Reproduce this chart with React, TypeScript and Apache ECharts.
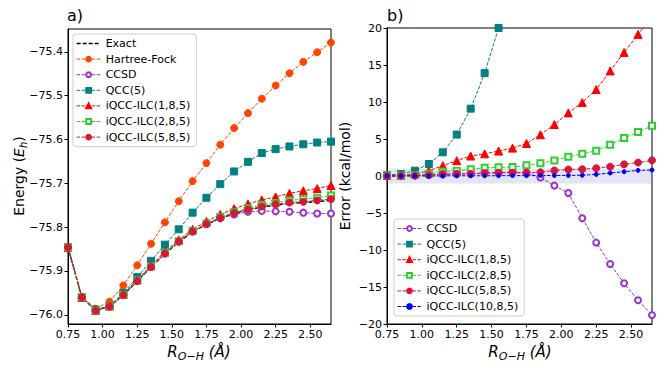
import React, { useEffect, useRef } from "react";
import * as echarts from "echarts";

const rValues = [0.75, 0.85, 0.95, 1.05, 1.15, 1.25, 1.35, 1.45, 1.55, 1.65, 1.75, 1.85, 1.95, 2.05, 2.15, 2.25, 2.35, 2.45, 2.55, 2.65];

const exactEnergy = [-75.846, -75.96, -75.99, -75.981, -75.955, -75.923, -75.891, -75.861, -75.834, -75.811, -75.794, -75.78, -75.769, -75.761, -75.754, -75.75, -75.746, -75.744, -75.742, -75.739];
const hfEnergy = [-75.846, -75.959, -75.986, -75.97, -75.933, -75.887, -75.838, -75.789, -75.741, -75.695, -75.654, -75.612, -75.574, -75.54, -75.507, -75.477, -75.449, -75.423, -75.401, -75.379];
const ccsdEnergy = [-75.846, -75.96, -75.99, -75.981, -75.955, -75.923, -75.891, -75.86, -75.833, -75.81, -75.793, -75.78, -75.771, -75.765, -75.763, -75.764, -75.765, -75.767, -75.769, -75.769];
const qccEnergy = [-75.846, -75.961, -75.988, -75.98, -75.95, -75.914, -75.877, -75.84, -75.805, -75.767, -75.733, -75.702, -75.673, -75.651, -75.631, -75.622, -75.616, -75.611, -75.607, -75.605];
const ilc1Energy = [-75.846, -75.96, -75.99, -75.98, -75.953, -75.92, -75.887, -75.856, -75.829, -75.805, -75.787, -75.771, -75.758, -75.747, -75.738, -75.731, -75.723, -75.717, -75.712, -75.705];
const ilc2Energy = [-75.846, -75.96, -75.99, -75.981, -75.954, -75.922, -75.89, -75.859, -75.832, -75.809, -75.792, -75.777, -75.766, -75.757, -75.749, -75.745, -75.739, -75.736, -75.733, -75.728];
const ilc5Energy = [-75.846, -75.96, -75.99, -75.981, -75.955, -75.923, -75.891, -75.86, -75.833, -75.81, -75.793, -75.779, -75.768, -75.76, -75.753, -75.748, -75.744, -75.742, -75.739, -75.736];

const ccsdError = [0.0, 0.05, 0.1, 0.15, 0.2, 0.25, 0.3, 0.4, 0.45, 0.5, 0.4, -0.2, -1.3, -2.3, -5.7, -9.0, -11.9, -14.5, -16.8, -18.8];
const qccError = [0.13, 0.27, 0.72, 1.62, 3.2, 5.6, 9.1, 13.9, 20.0, 27.6, 38.3, 49.0, 60.2, 69.0, 77.2, 80.3, 81.6, 83.4, 84.8, 84.1];
const ilc1Error = [0.1, 0.1, 0.27, 0.72, 1.4, 2.07, 2.7, 3.0, 3.37, 3.77, 4.4, 5.57, 6.96, 8.53, 9.93, 11.68, 14.2, 16.7, 19.14, 21.6];
const ilc2Error = [0.1, 0.05, 0.15, 0.27, 0.58, 0.72, 0.9, 1.12, 1.17, 1.2, 1.44, 1.71, 2.11, 2.6, 3.0, 3.41, 4.22, 5.12, 5.93, 6.78];
const ilc5Error = [0.0, 0.02, 0.05, 0.1, 0.27, 0.3, 0.3, 0.4, 0.45, 0.45, 0.45, 0.5, 0.75, 0.88, 0.92, 1.05, 1.26, 1.57, 1.82, 2.11];
const ilc10Error = [0.0, 0.0, 0.0, 0.0, 0.02, 0.03, 0.03, 0.03, 0.04, 0.05, 0.05, 0.06, 0.07, 0.08, 0.1, 0.22, 0.4, 0.58, 0.76, 0.81];

const xTicks = [0.75, 1.0, 1.25, 1.5, 1.75, 2.0, 2.25, 2.5];
const energyTicks = [-76.0, -75.9, -75.8, -75.7, -75.6, -75.5, -75.4];
const errorTicks = [-20, -15, -10, -5, 0, 5, 10, 15, 20];
const chemAccuracy = [-1, 1];

const leftLegendNames = ["Exact", "Hartree-Fock", "CCSD", "QCC(5)", "iQCC-ILC(1,8,5)", "iQCC-ILC(2,8,5)", "iQCC-ILC(5,8,5)"];
const rightLegendNames = ["CCSD", "QCC(5)", "iQCC-ILC(1,8,5)", "iQCC-ILC(2,8,5)", "iQCC-ILC(5,8,5)", "iQCC-ILC(10,8,5)"];

const FONT = "DejaVu Sans";
const minus = (s: string) => s.replace("-", "\u2212");
const DASH = [3.5, 1.5];

function mkSeries(name: string, idx: number, values: number[], color: string, symbol: string, size: number, extra: any = {}) {
  return {
    type: "line",
    name,
    xAxisIndex: idx,
    yAxisIndex: idx,
    data: rValues.map((r, i) => [r, values[i]]),
    symbol,
    symbolSize: size,
    showSymbol: symbol !== "none",
    clip: true,
    itemStyle: { color, borderColor: color, borderWidth: 1 },
    lineStyle: { color, width: 1, type: DASH },
    ...extra,
  };
}

function xAxis(idx: number) {
  return {
    type: "value",
    gridIndex: idx,
    min: 0.75,
    max: 2.65,
    interval: 0.25,
    axisLine: { show: true, onZero: false, lineStyle: { color: "#000", width: 1 } },
    axisTick: { show: true, length: 3.5, customValues: xTicks, lineStyle: { color: "#000" } },
    axisLabel: { customValues: xTicks, formatter: (v: number) => v.toFixed(2), color: "#000", fontSize: 11, fontFamily: FONT, margin: 5 },
    splitLine: { show: false },
  };
}

function legendData(names: string[]) {
  return names.map((n) =>
    n === "Exact"
      ? { name: n, itemStyle: { color: "rgba(0,0,0,0)", borderWidth: 0, opacity: 0 }, lineStyle: { color: "#000", width: 1.3, type: [4, 2] } }
      : { name: n }
  );
}

export default function App() {
  const ref = useRef<HTMLDivElement>(null);
  useEffect(() => {
    if (!ref.current) return;
    const chart = echarts.init(ref.current, undefined, { renderer: "svg" });
    const legendCommon = {
      orient: "vertical",
      itemWidth: 24,
      itemHeight: 6,
      itemGap: 2.6,
      backgroundColor: "rgba(255,255,255,0.85)",
      borderColor: "#cccccc",
      borderWidth: 1,
      borderRadius: 3,
      lineStyle: { width: 1, type: DASH },
      textStyle: { fontSize: 11, fontFamily: FONT, color: "#000", lineHeight: 13 },
      selectedMode: false,
    };
    const option: any = {
      animation: false,
      backgroundColor: "#fff",
      textStyle: { fontFamily: FONT },
      grid: [
        { left: 68, right: 333, top: 29, bottom: 50, show: true, borderColor: "#000", borderWidth: 1, backgroundColor: "transparent" },
        { left: 387, right: 12, top: 28, bottom: 50, show: true, borderColor: "#000", borderWidth: 1, backgroundColor: "transparent" },
      ],
      xAxis: [xAxis(0), xAxis(1)],
      yAxis: [
        {
          type: "value",
          gridIndex: 0,
          min: -76.021,
          max: -75.348,
          axisLine: { show: true, onZero: false, lineStyle: { color: "#000" } },
          axisTick: { show: true, length: 3.5, customValues: energyTicks, lineStyle: { color: "#000" } },
          axisLabel: { customValues: energyTicks, formatter: (v: number) => minus(v.toFixed(1)), color: "#000", fontSize: 11, fontFamily: FONT, margin: 5 },
          splitLine: { show: false },
        },
        {
          type: "value",
          gridIndex: 1,
          min: -20,
          max: 20,
          interval: 5,
          axisLine: { show: true, onZero: false, lineStyle: { color: "#000" } },
          axisTick: { show: true, length: 3.5, customValues: errorTicks, lineStyle: { color: "#000" } },
          axisLabel: { customValues: errorTicks, formatter: (v: number) => minus(String(v)), color: "#000", fontSize: 11, fontFamily: FONT, margin: 5 },
          splitLine: { show: false },
        },
      ],
      legend: [
        { ...legendCommon, data: legendData(leftLegendNames), left: 73, top: 34, padding: [3, 6, 3, 3] },
        { ...legendCommon, data: legendData(rightLegendNames), left: 394, top: 219, padding: [3, 6, 3, 3] },
      ],
      series: [
        mkSeries("Exact", 0, exactEnergy, "#000000", "none", 0, { lineStyle: { color: "#000", width: 1.3, type: [4, 2] } }),
        mkSeries("Hartree-Fock", 0, hfEnergy, "#ff4500", "circle", 7),
        mkSeries("CCSD", 0, ccsdEnergy, "#9932cc", "emptyCircle", 6),
        mkSeries("QCC(5)", 0, qccEnergy, "#008080", "rect", 7),
        mkSeries("iQCC-ILC(1,8,5)", 0, ilc1Energy, "#ff0000", "triangle", 8),
        mkSeries("iQCC-ILC(2,8,5)", 0, ilc2Energy, "#32cd32", "emptyRect", 6),
        mkSeries("iQCC-ILC(5,8,5)", 0, ilc5Energy, "#dc143c", "circle", 7),
        mkSeries("CCSD", 1, ccsdError, "#9932cc", "emptyCircle", 6, {
          markArea: {
            silent: true,
            itemStyle: { color: "rgba(120,120,220,0.2)" },
            data: [[{ yAxis: chemAccuracy[0] }, { yAxis: chemAccuracy[1] }]],
          },
        }),
        mkSeries("QCC(5)", 1, qccError, "#008080", "rect", 7),
        mkSeries("iQCC-ILC(1,8,5)", 1, ilc1Error, "#ff0000", "triangle", 8),
        mkSeries("iQCC-ILC(2,8,5)", 1, ilc2Error, "#32cd32", "emptyRect", 6),
        mkSeries("iQCC-ILC(5,8,5)", 1, ilc5Error, "#dc143c", "circle", 7),
        mkSeries("iQCC-ILC(10,8,5)", 1, ilc10Error, "#0000ff", "circle", 4),
      ],
      graphic: [
        { type: "text", left: 67, top: 7, style: { text: "a)", fontSize: 16, fontFamily: FONT, fill: "#000" } },
        { type: "text", left: 387, top: 7, style: { text: "b)", fontSize: 16, fontFamily: FONT, fill: "#000" } },
        {
          type: "text",
          x: 19,
          y: 176,
          rotation: Math.PI / 2,
          style: {
            text: "{n|Energy (}{i|E}{s|h}{n|)}",
            align: "center",
            verticalAlign: "middle",
            fill: "#000",
            rich: {
              n: { fontSize: 14, fontFamily: FONT, fill: "#000" },
              i: { fontSize: 14, fontFamily: FONT, fontStyle: "italic", fill: "#000" },
              s: { fontSize: 10, fontFamily: FONT, fontStyle: "italic", fill: "#000", padding: [8, 0, 0, 0] },
            },
          },
        },
        {
          type: "text",
          x: 345,
          y: 176,
          rotation: Math.PI / 2,
          style: { text: "Error (kcal/mol)", fontSize: 14, fontFamily: FONT, fill: "#000", align: "center", verticalAlign: "middle" },
        },
        ...[199, 520].map((cx) => ({
          type: "text",
          x: cx,
          y: 352,
          style: {
            text: "{i|R}{s|O\u2212H}{i| (Å)}",
            align: "center",
            verticalAlign: "middle",
            fill: "#000",
            rich: {
              i: { fontSize: 15, fontFamily: FONT, fontStyle: "italic", fill: "#000" },
              s: { fontSize: 11, fontFamily: FONT, fontStyle: "italic", fill: "#000", padding: [9, 0, 0, 0] },
            },
          },
        })),
      ],
    };
    chart.setOption(option);
    return () => chart.dispose();
  }, []);
  return <div ref={ref} style={{ width: 664, height: 374, position: "absolute", left: 0, top: 0 }} />;
}
